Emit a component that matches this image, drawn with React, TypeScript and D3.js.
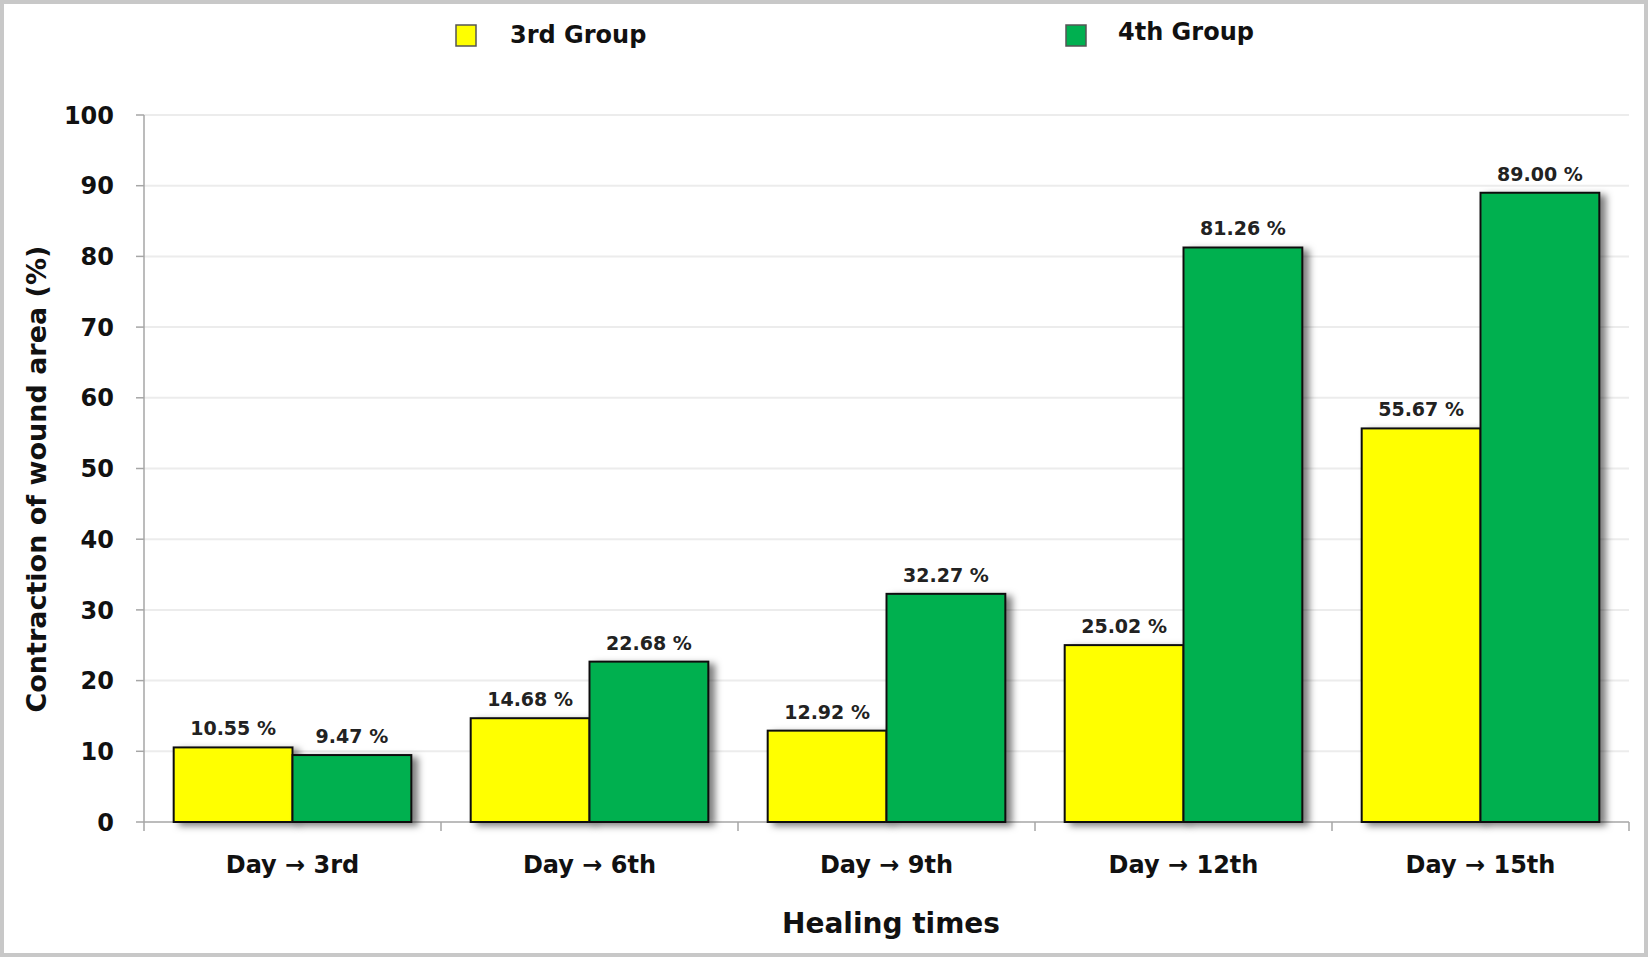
import React from 'react';
import * as d3 from 'd3';

// Chart data
const categories = ['Day → 3rd', 'Day → 6th', 'Day → 9th', 'Day → 12th', 'Day → 15th'];
const seriesNames = ['3rd Group', '4th Group'];
const group3 = [10.55, 14.68, 12.92, 25.02, 55.67];
const group4 = [9.47, 22.68, 32.27, 81.26, 89.0];
const yTicks = [0, 10, 20, 30, 40, 50, 60, 70, 80, 90, 100];
const colors = ['#FFFF00', '#00B050'];

const W = 1648;
const H = 957;
const margin = { top: 115, right: 19, bottom: 135, left: 144 };
const FONT = '"DejaVu Sans", Verdana, sans-serif';

const App: React.FC = () => {
	const innerW = W - margin.left - margin.right;
	const innerH = H - margin.top - margin.bottom;

	const x = d3.scaleBand<string>()
		.domain(categories)
		.range([0, innerW])
		.paddingInner(0.2)
		.paddingOuter(0.1);
	const xSub = d3.scaleBand<string>()
		.domain(seriesNames)
		.range([0, x.bandwidth()]);
	const y = d3.scaleLinear().domain([0, 100]).range([innerH, 0]);

	const series = [group3, group4];
	const fmt = d3.format('.2f');
	const step = innerW / categories.length;

	return (
		<svg width={W} height={H} style={{ position: 'absolute', left: 0, top: 0, background: '#fff' }}>
			<defs>
				<filter id="shadow" x="-20%" y="-20%" width="150%" height="140%">
					<feDropShadow dx="6" dy="3" stdDeviation="3.5" floodColor="#000" floodOpacity="0.5" />
				</filter>
			</defs>
			<rect x={2} y={2} width={W - 4} height={H - 4} fill="#fff" stroke="#c8c8c8" strokeWidth={4} />

			<g transform={`translate(${margin.left},${margin.top})`}>
				{/* grid */}
				{yTicks.filter(t => t > 0).map(t => (
					<line key={t} x1={0} x2={innerW} y1={y(t)} y2={y(t)} stroke="#ececec" strokeWidth={2} />
				))}

				{/* y axis */}
				<line x1={0} x2={0} y1={y(100)} y2={y(0)} stroke="#a6a6a6" strokeWidth={1.5} />
				{yTicks.map(t => (
					<g key={t} transform={`translate(0,${y(t)})`}>
						<line x1={-8} x2={0} stroke="#a6a6a6" strokeWidth={1.5} />
						<text x={-30} dy="0.36em" textAnchor="end" fontFamily={FONT} fontWeight="bold" fontSize={24} fill="#111">{t}</text>
					</g>
				))}

				{/* x axis */}
				<line x1={0} x2={innerW} y1={innerH} y2={innerH} stroke="#a6a6a6" strokeWidth={1.5} />
				{d3.range(categories.length + 1).map(i => (
					<line key={i} x1={i * step} x2={i * step} y1={innerH} y2={innerH + 9} stroke="#a6a6a6" strokeWidth={1.5} />
				))}
				{categories.map(c => (
					<text key={c} x={x(c)! + x.bandwidth() / 2} y={innerH + 51} textAnchor="middle"
						fontFamily={FONT} fontWeight="bold" fontSize={24} fill="#111">{c}</text>
				))}

				{/* bars */}
				{categories.map((c, i) => (
					<g key={c} transform={`translate(${x(c)},0)`}>
						{series.map((s, j) => (
							<rect key={j} x={xSub(seriesNames[j])} y={y(s[i])} width={xSub.bandwidth()}
								height={innerH - y(s[i])} fill={colors[j]} stroke="#111" strokeWidth={2}
								filter="url(#shadow)" />
						))}
						{series.map((s, j) => (
							<text key={'l' + j} x={xSub(seriesNames[j])! + xSub.bandwidth() / 2} y={y(s[i]) - 12}
								textAnchor="middle" fontFamily={FONT} fontWeight="bold" fontSize={19} fill="#222">{fmt(s[i])} %</text>
						))}
					</g>
				))}
			</g>

			{/* axis titles */}
			<text transform={`translate(46,${margin.top + innerH * 0.515}) rotate(-90)`} textAnchor="middle"
				fontFamily={FONT} fontWeight="bold" fontSize={27} fill="#111">Contraction of wound area (%)</text>
			<text x={891} y={933} textAnchor="middle" fontFamily={FONT} fontWeight="bold" fontSize={28} fill="#111">Healing times</text>

			{/* legend */}
			<rect x={456} y={25} width={20} height={21} fill={colors[0]} stroke="#555" strokeWidth={1.5} />
			<text x={510} y={43} fontFamily={FONT} fontWeight="bold" fontSize={24} fill="#111">{seriesNames[0]}</text>
			<rect x={1066} y={25} width={20} height={21} fill={colors[1]} stroke="#555" strokeWidth={1.5} />
			<text x={1118} y={40} fontFamily={FONT} fontWeight="bold" fontSize={24} fill="#111">{seriesNames[1]}</text>
		</svg>
	);
};

export default App;
